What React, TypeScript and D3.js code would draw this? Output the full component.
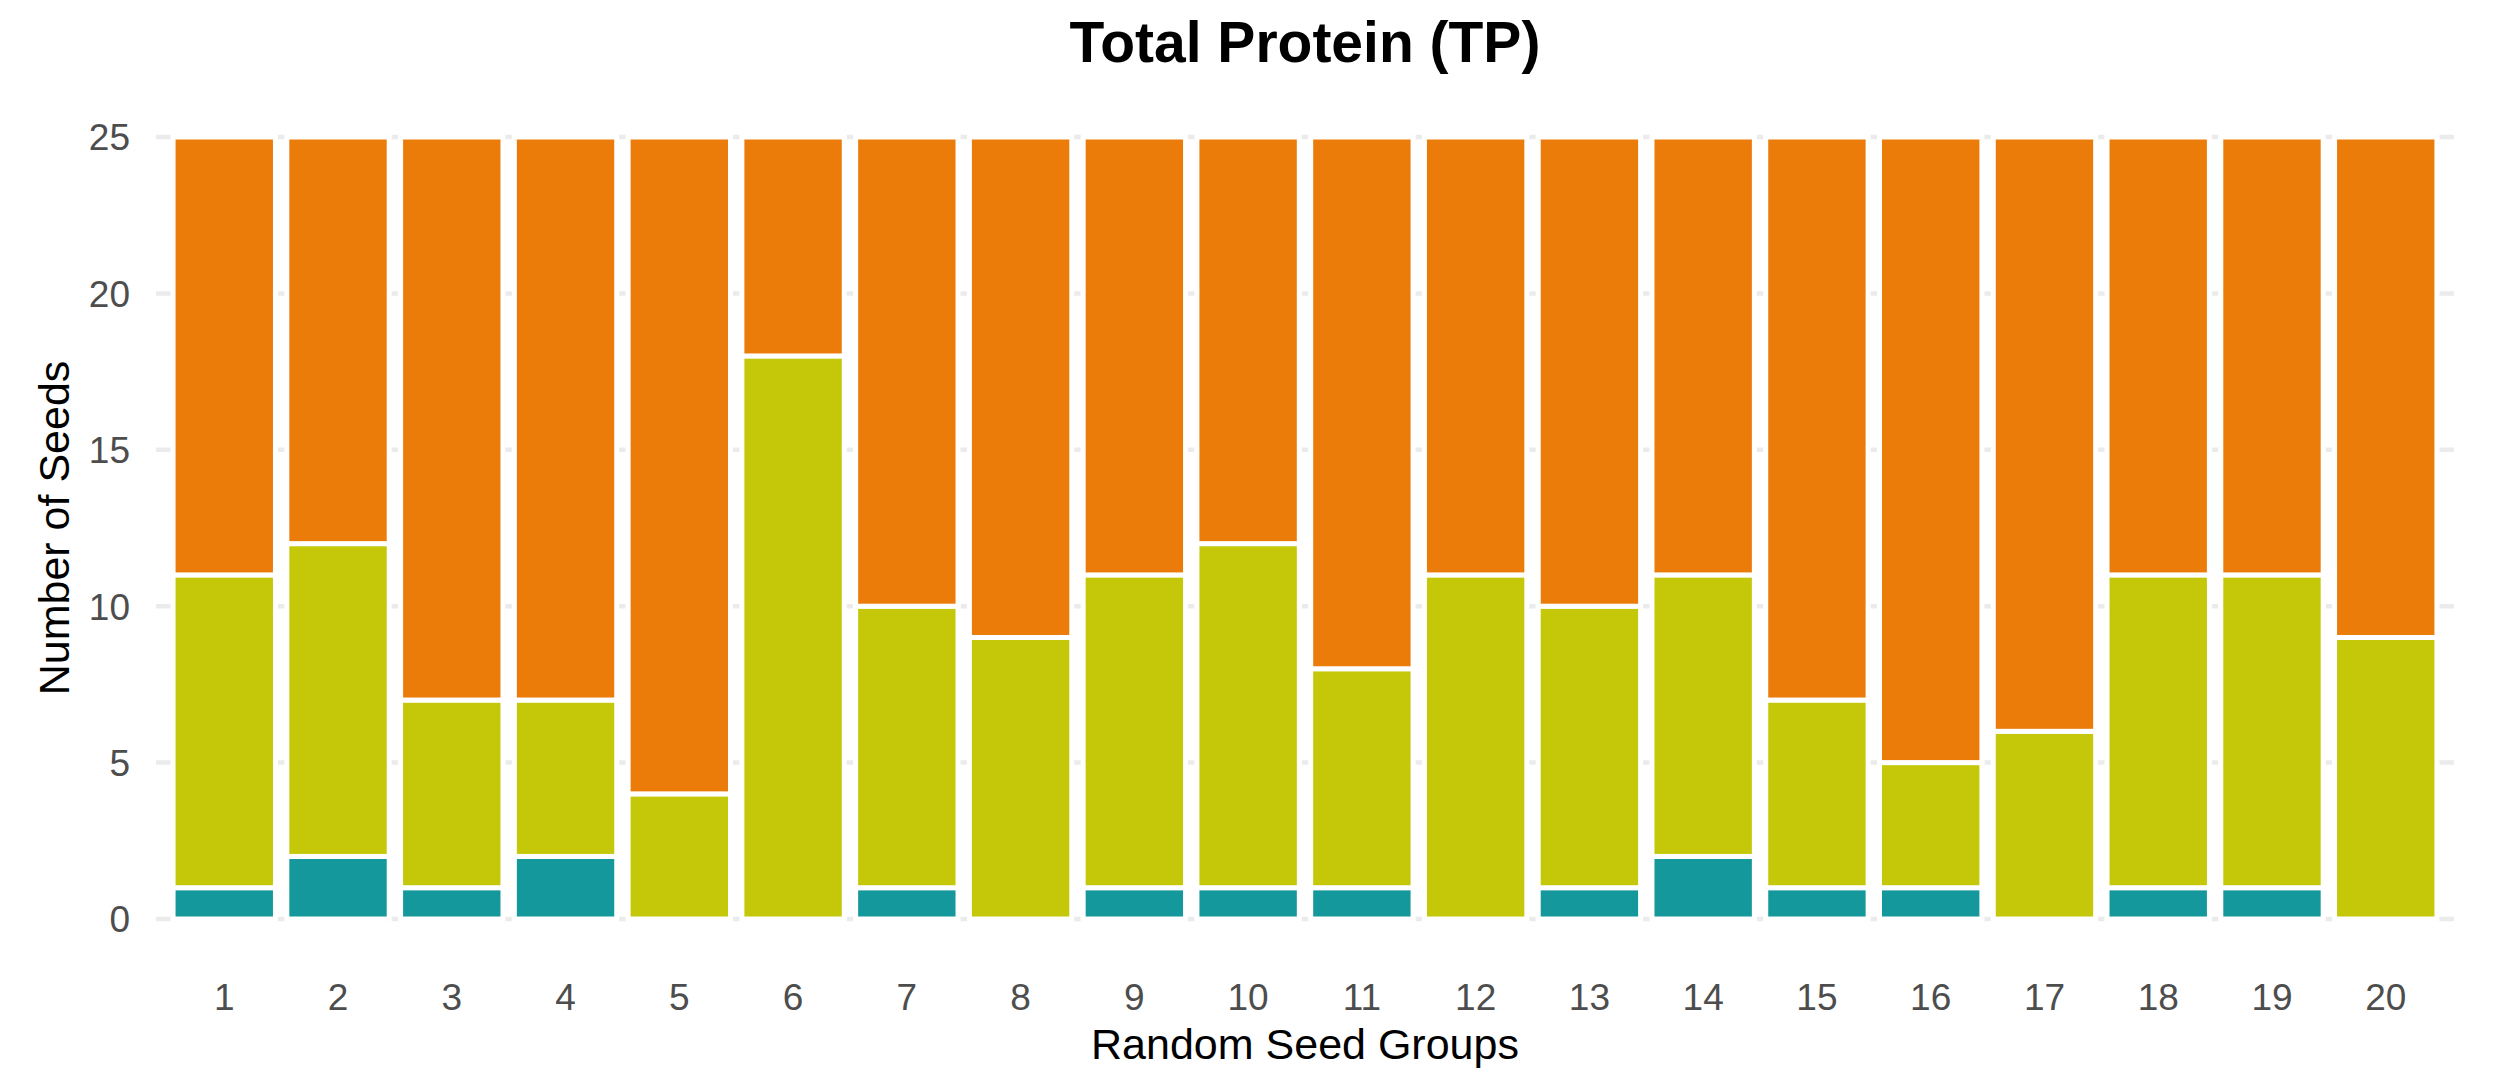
import React, { useEffect } from 'react';
import * as d3 from 'd3';

// seed groups on the x axis
const groups = ['1', '2', '3', '4', '5', '6', '7', '8', '9', '10', '11', '12', '13', '14', '15', '16', '17', '18', '19', '20'];

// counts per group, bottom to top of each stack
const classA = [1, 2, 1, 2, 0, 0, 1, 0, 1, 1, 1, 0, 1, 2, 1, 1, 0, 1, 1, 0];
const classB = [10, 10, 6, 5, 4, 18, 9, 9, 10, 11, 7, 11, 9, 9, 6, 4, 6, 10, 10, 9];
const classC = [14, 13, 18, 18, 21, 7, 15, 16, 14, 13, 17, 14, 15, 14, 18, 20, 19, 14, 14, 16];

const yTicks = [0, 5, 10, 15, 20, 25];

const seriesKeys = ['classA', 'classB', 'classC'];
const seriesColors = ['#14989C', '#C4C808', '#EC7C0A'];

const W = 2506;
const H = 1092;
const FONT = '"Liberation Sans", Arial, Helvetica, sans-serif';

export default function App() {
  useEffect(() => {
    document.body.style.margin = '0';
  }, []);

  const x = d3.scaleBand<string>()
    .domain(groups)
    .range([156, 2454])
    .paddingInner(0.1)
    .paddingOuter(0.15);

  const y = d3.scaleLinear().domain([0, 25]).range([919, 137]);

  const rows = groups.map((g, i) => ({ group: g, classA: classA[i], classB: classB[i], classC: classC[i] }));
  const stacked = d3.stack<any>().keys(seriesKeys)(rows);
  const color = d3.scaleOrdinal<string, string>().domain(seriesKeys).range(seriesColors);

  const [r0, r1] = x.range();

  return (
    <svg width={W} height={H} style={{ display: 'block', background: '#fff' }} fontFamily={FONT}>
      {/* grid */}
      <g>
        {yTicks.map(t => (
          <line key={'h' + t} x1={r0} x2={r1} y1={y(t)} y2={y(t)} stroke="#EBEBEB" strokeWidth={4.5} />
        ))}
        {groups.map(g => (
          <line key={'v' + g} x1={x(g)! + x.bandwidth() / 2} x2={x(g)! + x.bandwidth() / 2}
            y1={y(0)} y2={y(25)} stroke="#EBEBEB" strokeWidth={4.5} />
        ))}
      </g>

      {/* bars */}
      <g>
        {stacked.map(layer => (
          <g key={layer.key} fill={color(layer.key)}>
            {layer.filter(d => d[1] - d[0] > 0).map(d => (
              <rect key={d.data.group}
                x={x(d.data.group)}
                y={y(d[1])}
                width={x.bandwidth()}
                height={y(d[0]) - y(d[1])}
                stroke="#fff"
                strokeWidth={5} />
            ))}
          </g>
        ))}
      </g>

      {/* y axis labels */}
      <g fill="#4D4D4D" fontSize={37} textAnchor="end">
        {yTicks.map(t => (
          <text key={t} x={130} y={y(t)} dy="0.36em">{t}</text>
        ))}
      </g>

      {/* x axis labels */}
      <g fill="#4D4D4D" fontSize={37} textAnchor="middle">
        {groups.map(g => (
          <text key={g} x={x(g)! + x.bandwidth() / 2} y={1010}>{g}</text>
        ))}
      </g>

      <text x={(r0 + r1) / 2} y={1059} textAnchor="middle" fontSize={43} fill="#000">Random Seed Groups</text>
      <text transform={`translate(69,${(y(0) + y(25)) / 2}) rotate(-90)`} textAnchor="middle" fontSize={43} fill="#000">Number of Seeds</text>
      <text x={(r0 + r1) / 2} y={62} textAnchor="middle" fontSize={57} fontWeight="bold" fill="#000">Total Protein (TP)</text>
    </svg>
  );
}
